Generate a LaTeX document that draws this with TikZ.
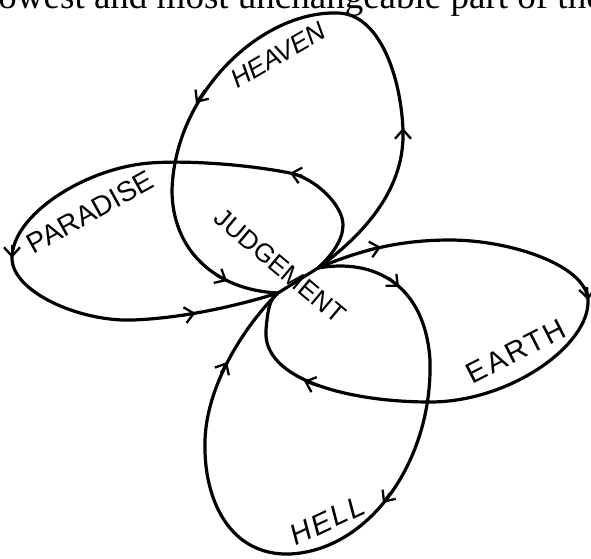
\documentclass[tikz,border=0pt]{standalone}
\usepackage{fontspec}
\setmainfont{Liberation Serif}
\newfontfamily\hand{Liberation Sans}
\newfontfamily\handsl[FakeSlant=0.18]{Liberation Sans}
\usetikzlibrary{arrows.meta}
\begin{document}
\begin{tikzpicture}[x=1pt,y=-1pt,
  loopline/.style={line width=3.2pt, line join=round, line cap=round},
  tip/.style={-{Straight Barb[length=9pt,width=16pt,line width=2.3pt]}, line width=2.3pt},
  lab/.style={inner sep=0pt, font=\hand\fontsize{26}{26}\selectfont},
  labsl/.style={inner sep=0pt, font=\handsl\fontsize{26}{26}\selectfont}]
\useasboundingbox (0,0) rectangle (591,558);
\clip (0,0) rectangle (591,558);
% cut-off line of running text at the top
\node[anchor=base west, inner sep=0pt, font=\fontsize{37}{37}\selectfont] (toptext) at (-12,8) {lowest and most unchangeable part of the};
% centre points
\coordinate (A) at (278,293);
\coordinate (B) at (318,268);
\draw[loopline] (A) -- (B);
% HEAVEN loop
\draw[loopline] (B) .. controls (370,230) and (405,185) .. (403,130)
  .. controls (401,78) and (380,13) .. (337,13)
  .. controls (262,11) and (175,92) .. (172,190)
  .. controls (172,250) and (215,290) .. (A);
% PARADISE loop
\draw[loopline] (B) .. controls (332,255) and (343,240) .. (343,225)
  .. controls (343,205) and (315,178) .. (290,173)
  .. controls (250,165) and (190,160) .. (150,163)
  .. controls (85,168) and (12,215) .. (12,258)
  .. controls (12,292) and (80,322) .. (133,320)
  .. controls (185,318) and (240,305) .. (A);
% EARTH loop
\draw[loopline] (B) .. controls (360,250) and (400,240) .. (450,240)
  .. controls (510,240) and (586,265) .. (588,300)
  .. controls (590,345) and (510,402) .. (430,402)
  .. controls (350,402) and (262,380) .. (266,330)
  .. controls (268,305) and (271,298) .. (A);
% HELL loop
\draw[loopline] (B) .. controls (375,258) and (425,285) .. (430,360)
  .. controls (433,460) and (370,550) .. (290,554)
  .. controls (230,556) and (203,500) .. (205,440)
  .. controls (207,380) and (250,320) .. (A);
% arrowheads
\draw[tip] (403,142) -- (403,128);
\draw[tip] (205,90) -- (196,103);
\draw[tip] (216,275) -- (227,281);
\draw[tip] (303,176) -- (290,173);
\draw[tip] (12,245) -- (12,258);
\draw[tip] (183,315.5) -- (195.5,313);
\draw[tip] (368,250) -- (381,247);
\draw[tip] (587,287) -- (588,300);
\draw[tip] (318,386) -- (304,381);
\draw[tip] (389,278) -- (399,287);
\draw[tip] (390,493) -- (383,503);
\draw[tip] (221,373) -- (227,362);
% labels
\node[labsl, rotate=30] (heaven) at (277,56) {HEAVEN};
\node[lab, rotate=29, font=\hand\fontsize{28}{28}\selectfont] (paradise) at (90,212) {PARADISE};
\node[lab, rotate=-40] (judgement) at (280,266) {JUDGEMENT};
\node[lab, rotate=27, font=\hand\fontsize{29}{29}\selectfont\addfontfeature{LetterSpace=8}] (earth) at (516,351) {EARTH};
\node[labsl, rotate=25, font=\handsl\fontsize{29}{29}\selectfont\addfontfeature{LetterSpace=8}] (hell) at (326,521) {HELL};
\end{tikzpicture}
\end{document}
